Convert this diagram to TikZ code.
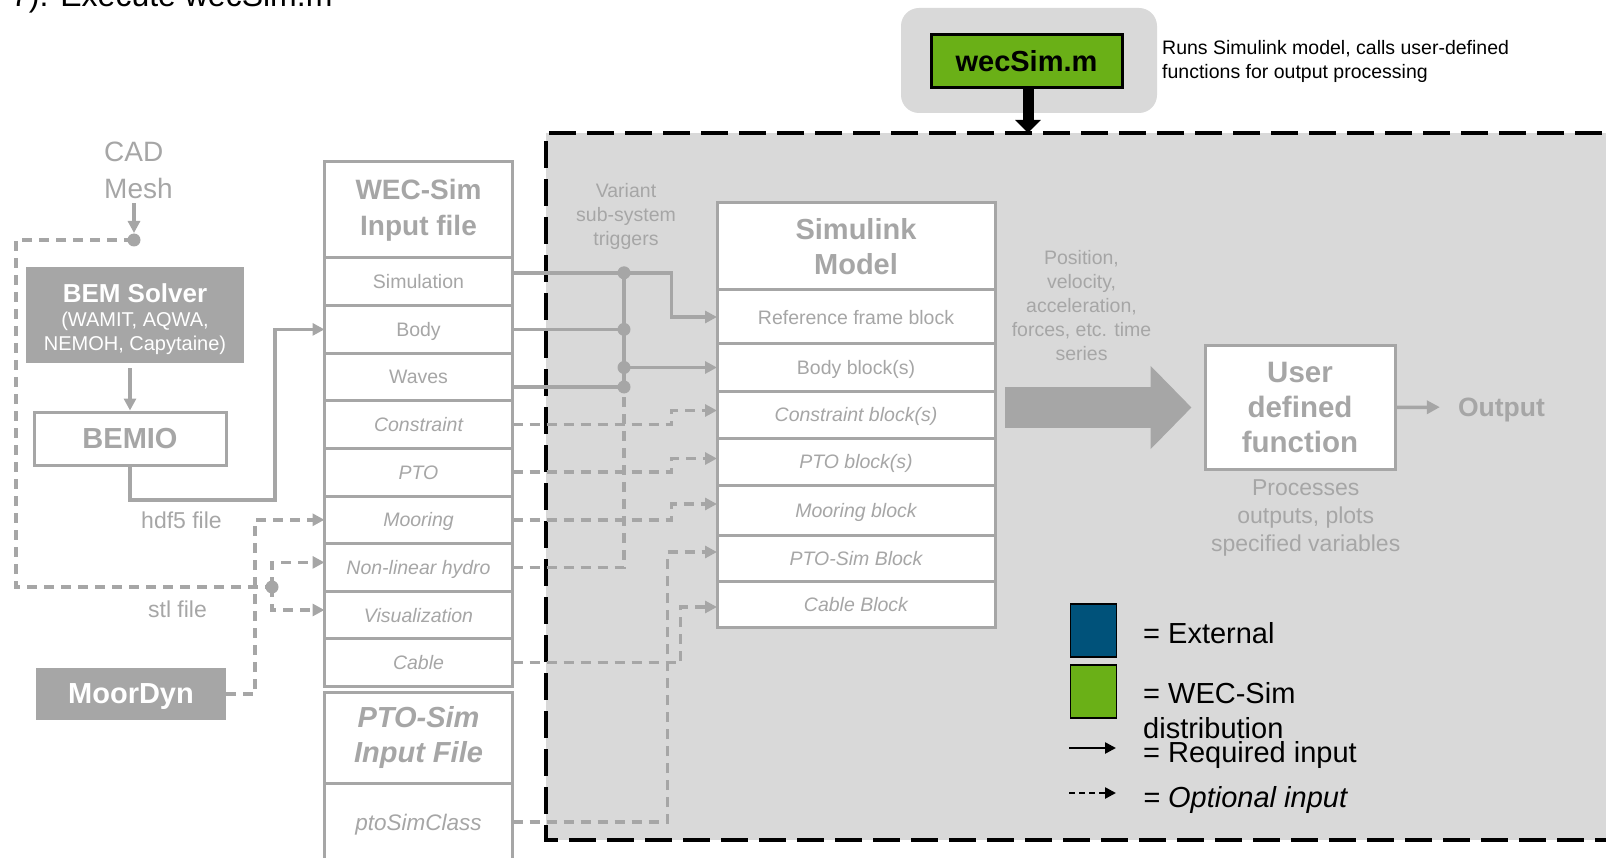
\documentclass[tikz,border=0pt]{standalone}
\usepackage{fontspec}
\setmainfont{Liberation Sans}
\usetikzlibrary{arrows.meta,positioning}

\definecolor{lgray}{HTML}{A6A6A6}
\definecolor{bggray}{HTML}{D9D9D9}
\definecolor{wecgreen}{RGB}{106,176,23}
\definecolor{extblue}{RGB}{0,82,122}

\newcommand{\setfs}[2]{\fontsize{#1}{#2}\selectfont}

\tikzset{
  inrow/.style={draw=lgray, line width=3pt, fill=white, text=lgray,
    inner sep=0pt, outer sep=0pt, minimum width=188pt, minimum height=47.6pt,
    text depth=0pt, font=\setfs{19.5}{22}},
  initrow/.style={inrow, font=\setfs{19.5}{22}\itshape},
  simrow/.style={inrow, minimum width=278pt, minimum height=47pt},
  simitrow/.style={simrow, font=\setfs{19.5}{22}\itshape},
  hdrbox/.style={inrow, text depth={}, align=center, font=\setfs{28}{36}\bfseries},
  toolbox/.style={fill=lgray, text=white, inner sep=0pt, align=center},
  wire/.style={draw=lgray, line width=3.5pt},
  req/.style={wire, -{Triangle[length=12pt,width=12pt]}},
  optwire/.style={wire, dash pattern=on 10pt off 7pt},
  opt/.style={optwire, -{Triangle[length=12pt,width=12pt]}},
  note/.style={text=lgray, inner sep=0pt, align=center, font=\setfs{19.5}{24}},
  legsq/.style={draw, line width=1.5pt, minimum width=46pt, minimum height=53pt, inner sep=0pt},
  legtxt/.style={inner sep=0pt, font=\setfs{29}{35}}
}

\begin{document}
\begin{tikzpicture}[x=1pt,y=-1pt]
\useasboundingbox (0,0) rectangle (1606,858);
\clip (0,0) rectangle (1606,858);

% run frame
\fill[bggray] (546,133) rectangle (1640,840);
\draw[line width=4pt, dash pattern=on 27pt off 11pt] (1640,133) -- (546,133) -- (546,840) -- (1640,840);
\fill[bggray, rounded corners=18pt] (901,8) rectangle (1157,113);

\node[anchor=base west, inner sep=0pt, font=\setfs{32}{38}] (title) at (11,7) {7). Execute wecSim.m};

% wecSim.m
\node[draw, line width=3pt, fill=wecgreen, minimum width=191pt, minimum height=53pt, inner sep=0pt, font=\setfs{29}{34}\bfseries] (wecsim) at (1026.5,61.5) {wecSim.m};
\node[anchor=west, inner sep=0pt, align=left, font=\setfs{19.5}{24}] (runs) at (1162,61) {Runs Simulink model, calls user-defined\\functions for output processing};
\coordinate (frametop) at (1028,133);
\draw[line width=11pt, -{Triangle[length=13pt,width=25pt]}] (wecsim.south -| frametop) -- (frametop);

% pre-processing
\node[anchor=north west, inner sep=0pt, align=left, text=lgray, font=\setfs{28}{37}] (cad) at (104,142) {CAD\\Mesh};
\coordinate (meshsplit) at (134,240);
\coordinate (stlsplit) at (272,587);
\node[toolbox, minimum width=218pt, minimum height=96pt, font=\setfs{20}{24}] (bem) at (135,315) {{\setfs{26}{28}\bfseries\rule{0pt}{27pt}BEM Solver}\\(WAMIT, AQWA,\\NEMOH, Capytaine)};
\node[draw=lgray, line width=3pt, fill=white, text=lgray, minimum width=192pt, minimum height=53pt, inner sep=0pt, font=\setfs{29}{34}\bfseries] (bemio) at (130,438.5) {BEMIO};
\node[toolbox, minimum width=190pt, minimum height=52pt, text depth=0pt, font=\setfs{29}{34}\bfseries] (moordyn) at (131,694) {MoorDyn};
\node[text=lgray, inner sep=0pt, font=\setfs{23}{27}] (hdf) at (181.5,520) {hdf5 file};
\node[text=lgray, inner sep=0pt, font=\setfs{23}{27}] (stl) at (177.5,609) {stl file};

% input file
\node[hdrbox, minimum height=96pt] (wecin) at (418.5,210) {WEC-Sim\\Input file};
\node[inrow, below=0pt of wecin] (sim) {Simulation};
\node[inrow, below=0pt of sim] (body) {Body};
\node[inrow, below=0pt of body] (waves) {Waves};
\node[initrow, below=0pt of waves] (cons) {Constraint};
\node[initrow, below=0pt of cons] (pto) {PTO};
\node[initrow, below=0pt of pto] (moor) {Mooring};
\node[initrow, below=0pt of moor] (nlh) {Non-linear hydro};
\node[initrow, below=0pt of nlh] (vis) {Visualization};
\node[initrow, below=0pt of vis] (cable) {Cable};
\node[hdrbox, minimum height=91pt, font=\setfs{29}{35}\bfseries\itshape] (ptosimin) at (418.5,737.5) {PTO-Sim\\Input File};
\node[initrow, minimum height=78pt, font=\setfs{22.5}{26}\itshape, below=0pt of ptosimin] (ptosimcls) {ptoSimClass};

% simulink model
\node[hdrbox, minimum width=278pt, minimum height=87pt, font=\setfs{29}{35}\bfseries] (simlk) at (856,246.5) {Simulink\\Model};
\node[simrow, minimum height=54pt, below=0pt of simlk] (refblk) {Reference frame block};
\node[simrow, below=0pt of refblk] (bodyblk) {Body block(s)};
\node[simitrow, below=0pt of bodyblk] (consblk) {Constraint block(s)};
\node[simitrow, below=0pt of consblk] (ptoblk) {PTO block(s)};
\node[simitrow, minimum height=50pt, below=0pt of ptoblk] (moorblk) {Mooring block};
\node[simitrow, minimum height=46pt, below=0pt of moorblk] (ptosimblk) {PTO-Sim Block};
\node[simitrow, minimum height=46pt, below=0pt of ptosimblk] (cableblk) {Cable Block};

% inputs to the input file
\draw[req, shorten <=4pt] (cad.south -| meshsplit) -- ([yshift=7pt]meshsplit);
\draw[optwire] (meshsplit) -- (16,240) |- (stlsplit);
\draw[req, shorten <=5pt] (bemio.north |- bem.south) -- (bemio.north);
\draw[req] (bemio.south) |- (275,500) |- (body.west);
\draw[opt] (moordyn.east) -- ++(29,0) |- (moor.west);
\draw[opt] (stlsplit) |- ([yshift=5pt]nlh.west);
\draw[opt] (stlsplit) |- ([yshift=5pt]vis.west);
\fill[lgray] (meshsplit) circle (6.5pt);
\fill[lgray] (stlsplit) circle (6.5pt);

% variant triggers
\node[note] (trigtxt) at (626,216) {Variant\\sub-system\\triggers};
\coordinate (trig) at (624,0);
\path ([yshift=9pt]sim.east) coordinate (simout) ([yshift=-10pt]waves.east) coordinate (waveout);
\draw[req] (simout) -- ++(159,0) |- (refblk.west);
\draw[wire] (body.east) -- (body.east -| trig);
\draw[wire] (waveout) -- (waveout -| trig);
\draw[wire] (simout -| trig) -- (waveout -| trig);
\draw[req] (bodyblk.west -| trig) -- (bodyblk.west);
\draw[optwire] (nlh.east) -| (waveout -| trig);
\fill[lgray] (simout -| trig) circle (6.5pt);
\fill[lgray] (body.east -| trig) circle (6.5pt);
\fill[lgray] (bodyblk.west -| trig) circle (6.5pt);
\fill[lgray] (waveout -| trig) circle (6.5pt);

% optional blocks
\draw[opt] (cons.east) -- ++(159,0) |- ([yshift=4pt]consblk.west);
\draw[opt] (pto.east) -- ++(159,0) |- ([yshift=3pt]ptoblk.west);
\draw[opt] (moor.east) -- ++(159,0) |- ([yshift=6pt]moorblk.west);
\draw[opt] (cable.east) -- ++(168,0) |- ([yshift=-3pt]cableblk.west);
\draw[opt] (ptosimcls.east) -- ++(155,0) |- ([yshift=6pt]ptosimblk.west);

% output processing
\node[note] (series) at (1081.5,305.5) {Position,\\velocity,\\acceleration,\\forces, etc. time\\series};
\node[draw=lgray, line width=3pt, fill=white, text=lgray, minimum width=190pt, minimum height=123pt, inner sep=0pt, align=center, font=\setfs{29.5}{35}\bfseries] (udf) at (1300,407.5) {User\\defined\\function};
\draw[lgray, line width=41pt, -{Triangle[length=41pt,width=81pt]}, shorten <=10pt, shorten >=12pt] (udf.west -| refblk.east) -- (udf.west);
\node[text=lgray, inner sep=0pt, text depth=0pt, font=\setfs{26.5}{30}\bfseries] (outp) at (1501.5,407) {Output};
\draw[wire, -{Triangle[length=13pt,width=13pt]}, shorten >=18pt] (udf.east) -- (outp.west);
\node[note, font=\setfs{23}{28}] (procs) at (1305.7,518) {Processes\\outputs, plots\\specified variables};

% legend
\node[legsq, fill=extblue] (legext) at (1093.5,630.5) {};
\node[legsq, fill=wecgreen] (legwec) at (1093.5,691.5) {};
\node[legtxt, anchor=base west] (lexttxt) at (1143,643) {= External};
\node[legtxt, anchor=north west, align=left] (lwectxt) at (1143,682) {= WEC-Sim\\distribution};
\node[legtxt, anchor=base west] (lreqtxt) at (1143,762) {= Required input};
\node[legtxt, anchor=base west, font=\setfs{29}{35}\itshape] (lopttxt) at (1143,807) {= Optional input};
\coordinate (lreq) at (1069,748);
\coordinate (lopt) at (1069,793);
\draw[line width=2.5pt, -{Triangle[length=11pt,width=11pt]}, shorten >=27pt] (lreq) -- (lreq -| lreqtxt.west);
\draw[line width=2.5pt, dash pattern=on 6pt off 4pt, -{Triangle[length=11pt,width=11pt]}, shorten >=27pt] (lopt) -- (lopt -| lopttxt.west);
\end{tikzpicture}
\end{document}
